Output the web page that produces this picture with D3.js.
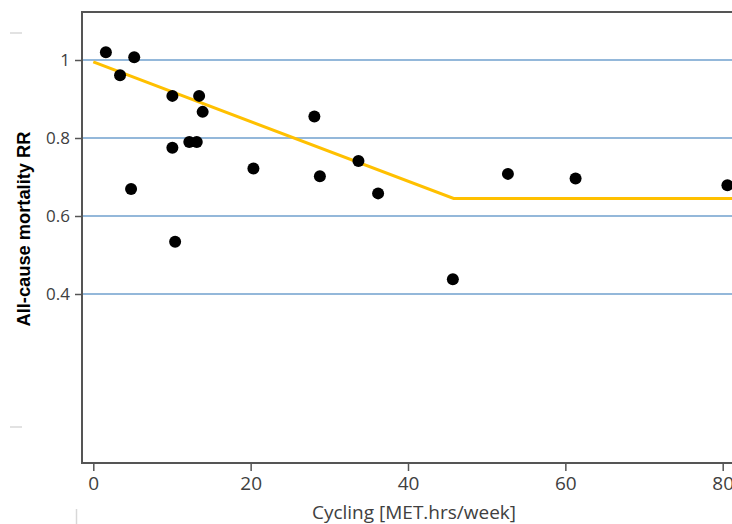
<!DOCTYPE html>
<html>
<head>
<meta charset="utf-8">
<script src="https://cdn.jsdelivr.net/npm/d3@7"></script>
<style>
  body { margin: 0; background: white; }
  svg { display: block; }
</style>
</head>
<body>
<svg id="chart"></svg>
<script>
// study points
var cyclingMET = [1.6, 3.4, 5.2, 4.8, 10.05, 10.05, 10.4, 12.2, 13.15, 13.45, 13.9,
                  20.35, 28.1, 28.8, 33.7, 36.2, 45.7, 52.7, 61.3, 80.6];
var mortalityRR = [1.02, 0.961, 1.007, 0.669, 0.908, 0.775, 0.534, 0.79, 0.79, 0.908, 0.867,
                   0.722, 0.855, 0.702, 0.741, 0.658, 0.438, 0.708, 0.696, 0.679];

// fitted piecewise line
var fitX = [0, 45.8, 82];
var fitY = [0.995, 0.645, 0.645];

var xTicks = [0, 20, 40, 60, 80];
var yTicks = [0.4, 0.6, 0.8, 1];

var screen = {width: 732, height: 524};
var frame = {left: 82, top: 12, bottom: 463};

var svg = d3.select("svg#chart")
    .attr("width", screen.width)
    .attr("height", screen.height);

var xScale = d3.scaleLinear()
    .domain([0, 80])
    .range([93.3, 722.7]);

var yScale = d3.scaleLinear()
    .domain([0.4, 1])
    .range([294, 60]);

// grid lines
svg.append("g")
    .selectAll("line")
    .data(yTicks)
    .enter()
    .append("line")
    .attr("x1", frame.left)
    .attr("x2", screen.width)
    .attr("y1", function(d) { return yScale(d); })
    .attr("y2", function(d) { return yScale(d); })
    .attr("stroke", "#94b8da")
    .attr("stroke-width", 2);

// frame: top, left, bottom
var frameColor = "#555555";
svg.append("path")
    .attr("d", "M" + screen.width + "," + frame.top + "H" + frame.left +
               "V" + frame.bottom + "H" + screen.width)
    .attr("fill", "none")
    .attr("stroke", frameColor)
    .attr("stroke-width", 2);

// y axis
var yAxis = d3.axisLeft(yScale)
    .tickValues(yTicks)
    .tickSize(7)
    .tickPadding(5)
    .tickFormat(function(d) { return d === 1 ? "1" : d3.format(".1f")(d); });

var yG = svg.append("g")
    .attr("transform", "translate(" + frame.left + ",0)")
    .call(yAxis);
yG.select(".domain").remove();
yG.selectAll(".tick line").attr("stroke", frameColor).attr("stroke-width", 1.5);
yG.selectAll(".tick text")
    .attr("fill", "#404040")
    .style("font-family", "'Open Sans', sans-serif")
    .style("font-size", "17px");

// x axis
var xAxis = d3.axisBottom(xScale)
    .tickValues(xTicks)
    .tickSize(8)
    .tickPadding(6);

var xG = svg.append("g")
    .attr("transform", "translate(0," + frame.bottom + ")")
    .call(xAxis);
xG.select(".domain").remove();
xG.selectAll(".tick line").attr("stroke", frameColor).attr("stroke-width", 1.5);
xG.selectAll(".tick text")
    .attr("fill", "#404040")
    .style("font-family", "'Open Sans', sans-serif")
    .style("font-size", "19px");

// labels
svg.append("text")
    .text("Cycling [MET.hrs/week]")
    .attr("x", 414)
    .attr("y", 519)
    .attr("text-anchor", "middle")
    .attr("fill", "#404040")
    .style("font-family", "'Open Sans', sans-serif")
    .style("font-size", "19px");

svg.append("g")
    .attr("transform", "translate(30,229)")
    .append("text")
    .text("All-cause mortality RR")
    .attr("text-anchor", "middle")
    .attr("transform", "rotate(-90)")
    .attr("textLength", 195)
    .attr("lengthAdjust", "spacingAndGlyphs")
    .attr("fill", "#000")
    .style("font-family", "'Liberation Sans', Arial, sans-serif")
    .style("font-weight", "bold")
    .style("font-size", "19px");

// fitted line
var lineGenerator = d3.line()
    .x(function(d) { return xScale(d[0]); })
    .y(function(d) { return yScale(d[1]); });

svg.append("path")
    .datum(d3.zip(fitX, fitY))
    .attr("d", lineGenerator)
    .attr("fill", "none")
    .attr("stroke", "#ffc000")
    .attr("stroke-width", 3);

// points
svg.append("g")
    .selectAll("circle")
    .data(d3.zip(cyclingMET, mortalityRR))
    .enter()
    .append("circle")
    .attr("cx", function(d) { return xScale(d[0]); })
    .attr("cy", function(d) { return yScale(d[1]); })
    .attr("r", 6)
    .attr("fill", "#000");

// faint crop marks left over in the picture
var marks = svg.append("g").attr("stroke", "#d8d8d8").attr("stroke-width", 1.5);
marks.append("line").attr("x1", 10).attr("x2", 22).attr("y1", 33).attr("y2", 33);
marks.append("line").attr("x1", 10).attr("x2", 22).attr("y1", 427).attr("y2", 427);
marks.append("line").attr("x1", 76.5).attr("x2", 76.5).attr("y1", 509).attr("y2", 524);
</script>
</body>
</html>
